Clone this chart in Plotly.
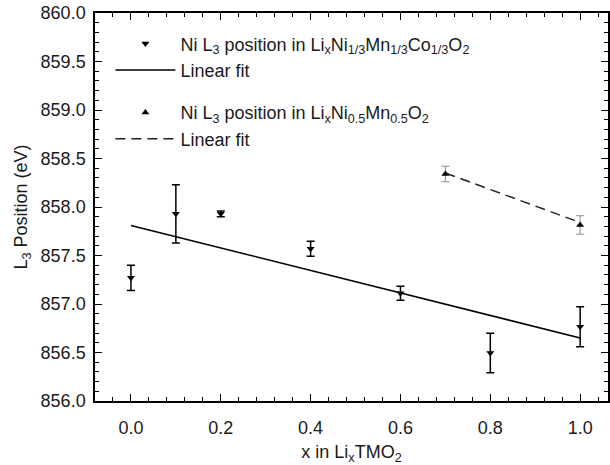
import plotly.graph_objects as go

# Ni L3 position in LixNi1/3Mn1/3Co1/3O2
x_nmc = [0.0, 0.1, 0.2, 0.4, 0.6, 0.8, 1.0]
y_nmc = [857.27, 857.93, 857.93, 857.57, 857.11, 856.495, 856.765]
err_nmc = [0.13, 0.30, 0.03, 0.077, 0.072, 0.204, 0.207]
fit_nmc_x = [0.0, 1.0]
fit_nmc_y = [857.81, 856.65]

# Ni L3 position in LixNi0.5Mn0.5O2
x_nm = [0.7, 1.0]
y_nm = [858.34, 857.815]
err_nm = [0.08, 0.095]
fit_nm_x = [0.7, 1.0]
fit_nm_y = [858.35, 857.84]

x_ticks = [0.0, 0.2, 0.4, 0.6, 0.8, 1.0]
y_ticks = [856.0, 856.5, 857.0, 857.5, 858.0, 858.5, 859.0, 859.5, 860.0]

FONT = "Liberation Sans, Arial, sans-serif"
TXT = "#1a1a1a"

fig = go.Figure()
fig.add_trace(go.Scatter(
    x=x_nmc, y=y_nmc, mode="markers",
    marker=dict(symbol="triangle-down", size=7, color="black"),
    error_y=dict(type="data", array=err_nmc, visible=True, color="black",
                 thickness=1.5, width=4),
    name="Ni L<sub>3</sub> position in Li<sub>x</sub>Ni<sub>1/3</sub>Mn<sub>1/3</sub>Co<sub>1/3</sub>O<sub>2</sub>",
    legendgroup="a",
))
fig.add_trace(go.Scatter(
    x=fit_nmc_x, y=fit_nmc_y, mode="lines",
    line=dict(color="black", width=1.5),
    name="Linear fit", legendgroup="a",
))
fig.add_trace(go.Scatter(
    x=x_nm, y=y_nm, mode="markers",
    marker=dict(symbol="triangle-up", size=7, color="black"),
    error_y=dict(type="data", array=err_nm, visible=True, color="#8c8c8c",
                 thickness=1, width=4),
    name="Ni L<sub>3</sub> position in Li<sub>x</sub>Ni<sub>0.5</sub>Mn<sub>0.5</sub>O<sub>2</sub>",
    legendgroup="b",
))
fig.add_trace(go.Scatter(
    x=fit_nm_x, y=fit_nm_y, mode="lines",
    line=dict(color="#222222", width=1.5, dash="10px,6px"),
    name="Linear fit", legendgroup="b",
))

axis_common = dict(
    showline=True, linecolor="black", linewidth=1.5, mirror="ticks",
    ticks="inside", ticklen=7, tickwidth=1.3, tickcolor="black",
    showgrid=False, zeroline=False,
    tickfont=dict(family=FONT, size=18, color=TXT),
)

fig.update_layout(
    width=610, height=465,
    margin=dict(l=95, r=0, t=13, b=64),
    plot_bgcolor="white", paper_bgcolor="white",
    font=dict(family=FONT, size=18, color=TXT),
    showlegend=True,
    legend=dict(
        x=0.03, y=0.968, xanchor="left", yanchor="top",
        bgcolor="rgba(0,0,0,0)", borderwidth=0,
        font=dict(family=FONT, size=18, color=TXT),
        itemwidth=60, tracegroupgap=16, traceorder="grouped",
    ),
    xaxis=dict(
        axis_common,
        range=[-0.08, 1.062],
        tickvals=x_ticks, ticktext=[f"{v:.1f}" for v in x_ticks],
        minor=dict(dtick=0.04, ticks="inside", ticklen=4, tickcolor="black", tickwidth=1.2),
        ticklabelstandoff=10,
        title=dict(text="x in Li<sub>x</sub>TMO<sub>2</sub>", standoff=8,
                   font=dict(family=FONT, size=18, color=TXT)),
    ),
    yaxis=dict(
        axis_common,
        range=[856.0, 860.0],
        tickvals=y_ticks, ticktext=[f"{v:.1f}" for v in y_ticks],
        minor=dict(dtick=0.1, ticks="inside", ticklen=4, tickcolor="black", tickwidth=1.2),
        ticklabelstandoff=4,
        title=dict(text="L<sub>3</sub> Position (eV)", standoff=8,
                   font=dict(family=FONT, size=18, color=TXT)),
    ),
)

fig.write_html("out.html")
